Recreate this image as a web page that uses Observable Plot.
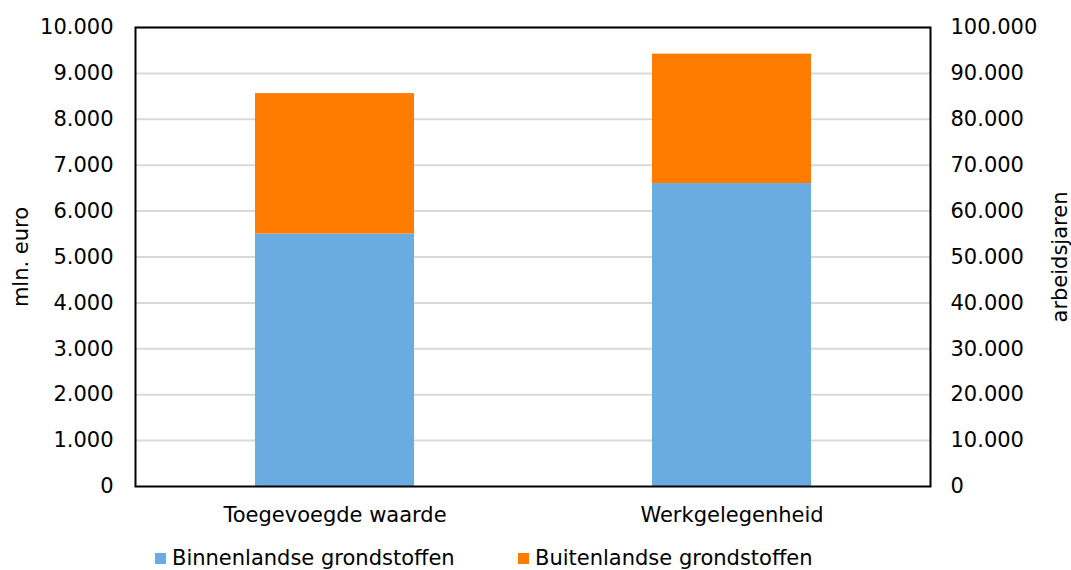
<!DOCTYPE html>
<html>
<head>
<meta charset="utf-8">
<script src="https://cdn.jsdelivr.net/npm/d3@7"></script>
<script src="https://cdn.jsdelivr.net/npm/@observablehq/plot@0.6"></script>
<style>
  html, body { margin: 0; padding: 0; background: #fff; }
  body { width: 1071px; height: 570px; overflow: hidden; font-family: "DejaVu Sans", Verdana, sans-serif; }
  #legend { position: relative; height: 30px; font-size: 21px; color: #000; }
  .item { position: absolute; display: flex; align-items: center; top: 6px; }
  .sw { width: 11px; height: 11px; margin-right: 6px; }
</style>
</head>
<body>
<div id="chart"></div>
<div id="legend"></div>
<script>
// Categories
const categories = ["Toegevoegde waarde", "Werkgelegenheid"];
// Series (left-axis units: mln. euro; Werkgelegenheid = arbeidsjaren / 10)
const binnenlands = [5500, 6600];
const buitenlands = [3060, 2820];
const seriesNames = ["Binnenlandse grondstoffen", "Buitenlandse grondstoffen"];
const seriesColors = ["#6aabe2", "#ff7c00"];
// Tick values
const leftTicks = [0, 1000, 2000, 3000, 4000, 5000, 6000, 7000, 8000, 9000, 10000];
const rightFactor = 10;

const nl = d3.formatLocale({decimal: ",", thousands: ".", grouping: [3], currency: ["€", ""]});
const fmt = nl.format(",");

const data = [];
categories.forEach((c, i) => {
  data.push({cat: c, series: seriesNames[0], value: binnenlands[i]});
  data.push({cat: c, series: seriesNames[1], value: buitenlands[i]});
});

const W = 1071, H = 540;
const chart = Plot.plot({
  width: W,
  height: H,
  marginLeft: 135,
  marginRight: 141,
  marginTop: 27,
  marginBottom: 54,
  style: {fontFamily: "DejaVu Sans, Verdana, sans-serif", fontSize: "21px", color: "#000", background: "#fff"},
  x: {domain: categories, paddingInner: 0.6, paddingOuter: 0.3},
  y: {domain: [0, 10000]},
  color: {domain: seriesNames, range: seriesColors},
  marks: [
    Plot.gridY(leftTicks.filter(d => d > 0), {stroke: "#d9d9d9", strokeOpacity: 1, strokeWidth: 2}),
    Plot.barY(data, {x: "cat", y: "value", fill: "series", order: seriesNames}),
    Plot.frame({stroke: "#000", strokeWidth: 2}),
    Plot.axisY({anchor: "left", ticks: leftTicks, tickFormat: fmt, tickSize: 0, tickPadding: 22,
      label: "mln. euro", labelAnchor: "center", labelArrow: "none", labelOffset: 122}),
    Plot.axisY({anchor: "right", ticks: leftTicks, tickFormat: d => fmt(d * rightFactor), tickSize: 0, tickPadding: 20,
      label: "arbeidsjaren", labelAnchor: "center", labelArrow: "none", labelOffset: 136}),
    Plot.axisX({tickSize: 0, tickPadding: 21, label: null})
  ]
});
document.getElementById("chart").appendChild(chart);

const legend = document.getElementById("legend");
const lx = [155, 518];
seriesNames.forEach((n, i) => {
  const it = document.createElement("div");
  it.className = "item";
  it.style.left = lx[i] + "px";
  it.innerHTML = `<span class="sw" style="background:${seriesColors[i]}"></span><span>${n}</span>`;
  legend.appendChild(it);
});
</script>
</body>
</html>
